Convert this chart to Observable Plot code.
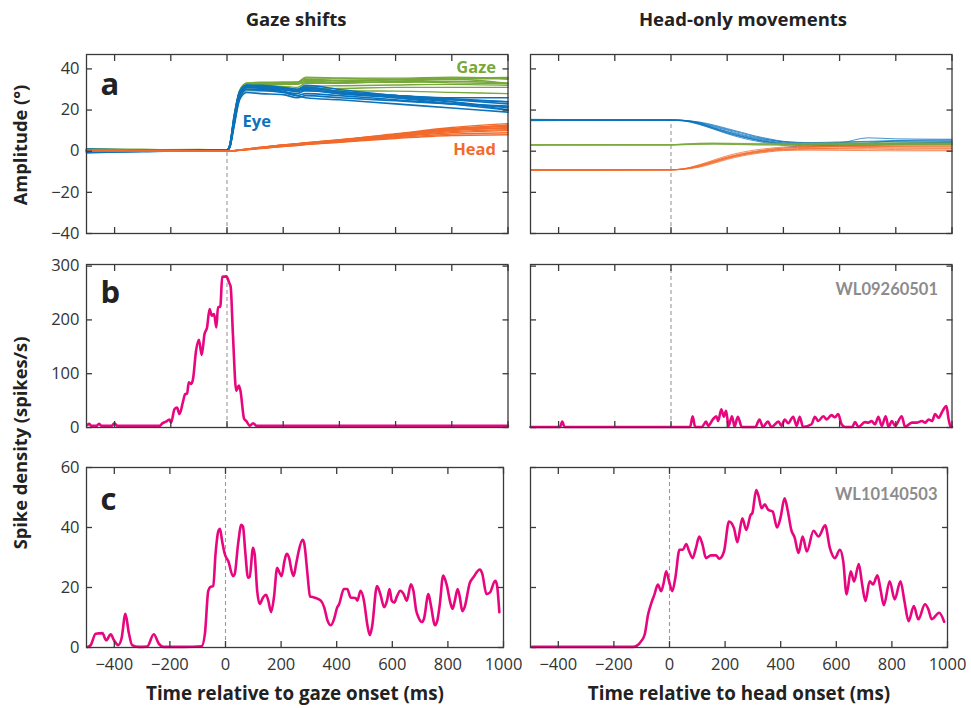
<!DOCTYPE html>
<html>
<head>
<meta charset="utf-8">
<script src="https://cdn.jsdelivr.net/npm/d3@7"></script>
<script src="https://cdn.jsdelivr.net/npm/@observablehq/plot@0.6"></script>
<style>
  html, body { margin: 0; padding: 0; background: #fff; }
  #root { position: relative; width: 971px; height: 708px; overflow: hidden; font-family: "Open Sans", Lato, sans-serif; }
  #root svg { position: absolute; overflow: visible; }
  .lbl { position: absolute; font-weight: bold; color: #222; white-space: nowrap; transform: translate(-50%, -50%); line-height: 1; }
  .rot { transform: translate(-50%, -50%) rotate(-90deg); }
</style>
</head>
<body>
<div id="root"></div>
<script>
// ---------------- DATA ----------------
const columnTitles = ["Gaze shifts", "Head-only movements"];
const xTitles = ["Time relative to gaze onset (ms)", "Time relative to head onset (ms)"];
const yTitles = ["Amplitude (°)", "Spike density (spikes/s)"];
const panelLetters = ["a", "b", "c"];
const cellIds = ["WL09260501", "WL10140503"];
const traceNames = ["Gaze", "Eye", "Head"];
const xTicks = [-400, -200, 0, 200, 400, 600, 800, 1000];
const yTicksA = [-40, -20, 0, 20, 40];
const yTicksB = [0, 100, 200, 300];
const yTicksC = [0, 20, 40, 60];

// Panel a, gaze shifts: sample times (ms) and traces (deg)
const timesLeftA = [-500, -300, -100, 0, 10, 25, 45, 70, 120, 200, 250, 280, 400, 600, 800, 1000];
const eyeLeft = [
  [1, 0.5, 0.3, 0.5, 3, 16, 29, 32, 32, 31, 30, 31, 29, 27, 25, 23],
  [-0.5, 0, 0.5, 0.6, 2.5, 15, 28, 31, 31, 30, 29.5, 30, 28, 26, 24, 21],
  [0.8, 0.3, 0.2, 0.4, 2, 13, 26, 30, 30, 29, 28, 29.5, 28, 27, 26, 26],
  [0, -0.3, 0.4, 0.5, 3, 17, 29, 32, 31.5, 30.5, 30, 32, 30, 27, 24, 20],
  [-0.8, 0, 0.3, 0.5, 2, 14, 27, 31, 30.5, 29, 27, 26, 25, 23, 21, 19],
  [0.5, 0.2, 0.5, 0.6, 2.5, 15, 28, 32, 31, 30, 29, 31, 29, 26.5, 25, 24],
  [0.2, 0.5, 0.3, 0.5, 2, 12, 25, 28.5, 28, 27.5, 26, 27, 26, 24.5, 23, 22],
  [-0.3, 0, 0.4, 0.5, 3, 16, 28, 31, 31, 30, 29.5, 29.5, 28.5, 27, 25.5, 24],
  [0.6, 0.4, 0.3, 0.5, 2.5, 14, 27, 30, 29.5, 28.5, 27, 28, 27, 25, 23, 21.5],
  [0, 0.2, 0.5, 0.5, 2, 15, 28, 31.5, 31, 30, 30, 30.5, 29, 26, 23, 20]
];
const headLeft = [
  [0.5, 0.3, 0.2, 0, 0.1, 0.3, 0.6, 1, 1.8, 3, 3.6, 4, 5.5, 8.5, 11.5, 13.4],
  [0.3, 0.4, 0.2, 0, 0.1, 0.3, 0.5, 0.9, 1.6, 2.7, 3.3, 3.7, 5, 7.5, 10, 11.5],
  [0.4, 0.2, 0.1, 0, 0.1, 0.2, 0.5, 0.8, 1.5, 2.5, 3, 3.4, 4.6, 7, 9, 10],
  [0.2, 0.3, 0.2, 0, 0.1, 0.3, 0.6, 1, 1.7, 2.9, 3.5, 3.9, 5.3, 8, 11, 12.5],
  [0.5, 0.4, 0.3, 0, 0.1, 0.2, 0.4, 0.7, 1.3, 2.3, 2.8, 3.2, 4.3, 6.2, 7.6, 8],
  [0.3, 0.2, 0.2, 0, 0.1, 0.3, 0.6, 1, 1.9, 3.1, 3.7, 4.1, 5.6, 8.2, 10.8, 12],
  [0.4, 0.3, 0.1, 0, 0.1, 0.2, 0.5, 0.8, 1.4, 2.4, 2.9, 3.3, 4.5, 6.6, 8.3, 9],
  [0.2, 0.2, 0.2, 0, 0.1, 0.3, 0.5, 0.9, 1.6, 2.8, 3.4, 3.8, 5.2, 7.8, 10.4, 11],
  [0.5, 0.3, 0.2, 0, 0.1, 0.2, 0.5, 0.8, 1.5, 2.6, 3.1, 3.5, 4.8, 7.2, 9.5, 10.5],
  [0.3, 0.4, 0.3, 0, 0.1, 0.3, 0.6, 1, 1.8, 3, 3.5, 3.9, 5.4, 8, 10.2, 12.8]
];
const gazeLeft = [
  [1, 0.8, 0.5, 0.5, 3, 16, 29.5, 33, 33.5, 33.5, 33.5, 35.5, 35.5, 35.5, 36, 35.5],
  [-0.2, 0.4, 0.7, 0.6, 2.5, 15, 28.5, 32, 32.5, 32.5, 32.5, 34, 33.5, 33.5, 34, 33],
  [1.2, 0.5, 0.3, 0.4, 2, 13, 26.5, 31, 31.5, 31.5, 31, 33, 33, 34, 35, 35.5],
  [0.2, 0, 0.6, 0.5, 3, 17, 29.5, 33, 33, 33.5, 33.5, 36, 35.5, 35, 35, 33],
  [-0.3, 0.4, 0.6, 0.5, 2, 14, 27.5, 31.5, 31.8, 31.3, 29.8, 29.2, 29.3, 29.2, 28.6, 28],
  [0.8, 0.4, 0.7, 0.6, 2.5, 15, 28.5, 33, 33, 33, 32.7, 35, 34.5, 34.7, 35.5, 35.8],
  [0.6, 0.8, 0.4, 0.5, 2, 12, 25.5, 29.3, 29.4, 29.9, 28.9, 30.3, 30.5, 31, 31, 31],
  [-0.1, 0.2, 0.6, 0.5, 3, 16, 28.5, 32, 32.6, 32.8, 32.9, 33.3, 33.7, 34.8, 35.5, 35],
  [1.1, 0.7, 0.5, 0.5, 2.5, 14, 27.5, 30.8, 31, 31.1, 30.1, 31.5, 31.8, 32.2, 32.5, 32],
  [0.3, 0.6, 0.8, 0.5, 2, 15, 28.5, 32.5, 32.8, 33, 33.5, 34.4, 34.4, 34, 33.2, 32.8]
];

// Panel a, head-only movements
const timesRightA = [-500, -200, 0, 40, 100, 150, 200, 250, 300, 350, 400, 500, 600, 700, 800, 1000];
const eyeRight = [
  [15.3, 15.2, 15.2, 15, 13.8, 12, 10.2, 8.2, 6.6, 5.4, 4.6, 4.2, 4.5, 4.8, 5.2, 5.5],
  [15, 15.1, 15, 14.8, 13.2, 11, 8.8, 7, 5.5, 4.3, 3.6, 3.3, 3.5, 3.8, 4, 4.2],
  [15.5, 15.3, 15.3, 15.1, 14, 12.4, 10.6, 8.8, 7, 5.6, 4.5, 3.5, 4, 6.5, 6, 5.8],
  [14.8, 15, 15, 14.8, 13, 10.8, 8.5, 6.5, 5, 3.8, 2.8, 2, 2.4, 2.8, 3.2, 3.4],
  [15.2, 15.1, 15.2, 15, 13.6, 11.6, 9.6, 7.8, 6.2, 5, 4, 3.2, 3.4, 3.9, 5, 4.8],
  [15, 14.9, 15.1, 14.9, 13.4, 11.4, 9.4, 7.4, 5.8, 4.6, 3.8, 3, 2.8, 3, 3.5, 3.7],
  [15.4, 15.3, 15.2, 15, 14.2, 12.8, 11, 9.2, 7.4, 6, 4.8, 4, 4.2, 4.5, 4.8, 5],
  [15.1, 15.2, 15, 14.9, 13.5, 11.2, 9, 7.2, 5.6, 4.4, 3.4, 2.6, 3, 3.4, 3.8, 4.4]
];
const headRight = [
  [-9.2, -9.1, -9, -8.7, -7, -5, -3, -1.5, -0.2, 0.8, 1.5, 2, 2.2, 2.4, 2.5, 2.6],
  [-8.9, -9, -9.1, -8.8, -7.5, -5.6, -3.6, -2, -0.8, 0, 0.6, 1, 1, 1, 0.8, 0.6],
  [-9.3, -9.2, -9, -8.6, -6.6, -4.4, -2.2, -0.6, 0.6, 1.4, 2, 2.3, 2.4, 2.3, 2.2, 2.1],
  [-9, -9.1, -9, -8.8, -7.8, -6, -4, -2.4, -1.2, -0.3, 0.3, 0.5, 0.4, 0.3, 0.2, 0.2],
  [-9.1, -9, -9.1, -8.7, -7.2, -5.2, -3.2, -1.6, -0.4, 0.5, 1, 1.4, 1.6, 1.8, 2, 2],
  [-9.2, -9.2, -9, -8.7, -6.8, -4.8, -2.8, -1.2, 0, 0.9, 1.6, 2.2, 2.5, 2.8, 3, 3.2],
  [-9, -9, -9.1, -8.8, -7.4, -5.4, -3.4, -1.8, -0.6, 0.3, 0.9, 1.2, 1.4, 1.5, 1.4, 1.3]
];
const gazeRight = [
  [3.1, 3.2, 3.1, 3.3, 3.6, 3.7, 3.7, 3.6, 3.5, 3.6, 3.5, 3.6, 3.5, 3.7, 3.6, 3.7],
  [2.9, 3, 3, 3.2, 3.4, 3.5, 3.4, 3.3, 3.2, 3.2, 3.3, 3.2, 3.3, 3.2, 3.3, 3.3],
  [3, 3.1, 3.2, 3.5, 3.9, 4, 3.9, 3.8, 3.8, 3.9, 3.8, 3.9, 4, 4, 4.1, 4],
  [3.2, 3.1, 3, 3.1, 3.3, 3.4, 3.3, 3.2, 3, 2.9, 2.9, 3, 3, 3.1, 3, 3],
  [3, 3, 3.1, 3.4, 3.7, 3.8, 3.6, 3.5, 3.4, 3.4, 3.5, 3.5, 3.6, 3.5, 3.6, 3.5]
];

// Panel b, spike density (spikes/s): [time ms, rate]
const spikesLeftB = [
  [-496, 5], [-490, 7], [-483, 3], [-465, 3], [-455, 7], [-447, 3], [-410, 3], [-401, 8], [-390, 3],
  [-240, 3], [-229, 8], [-217, 11], [-205, 15], [-199, 9], [-187, 34], [-178, 37], [-169, 25],
  [-157, 47], [-149, 62], [-142, 63], [-136, 84], [-127, 81], [-121, 90], [-110, 143], [-100, 163],
  [-90, 135], [-80, 174], [-71, 186], [-62, 220], [-54, 208], [-46, 211], [-38, 186], [-32, 224],
  [-24, 224], [-17, 280], [-2, 281], [7, 270], [13, 262], [21, 174], [33, 68], [42, 78], [48, 68],
  [61, 16], [69, 12], [81, 3], [93, 8], [105, 3], [400, 3], [1000, 3]
];
const spikesRightB = [
  [-500, 1], [-395, 1], [-387, 11], [-379, 1], [0, 1], [68, 1], [77, 21], [86, 1], [110, 1], [125, 11],
  [132, 3], [149, 15], [161, 21], [168, 12], [179, 34], [188, 20], [196, 31], [205, 3], [217, 21],
  [226, 2], [238, 20], [252, 1], [300, 1], [315, 15], [327, 1], [345, 11], [357, 1], [383, 11],
  [393, 3], [405, 15], [417, 8], [435, 20], [447, 3], [458, 20], [470, 1], [500, 6], [512, 20],
  [524, 12], [542, 21], [554, 15], [571, 23], [583, 19], [595, 25], [607, 6], [619, 1], [645, 1],
  [655, 10], [667, 1], [690, 10], [702, 9], [714, 12], [726, 6], [738, 20], [750, 3], [764, 21],
  [774, 1], [786, 12], [798, 3], [821, 21], [833, 1], [857, 9], [874, 9], [893, 12], [905, 9],
  [917, 15], [929, 12], [940, 25], [952, 18], [964, 28], [970, 34], [980, 40], [988, 15], [994, 3], [1000, 1]
];

// Panel c, spike density (spikes/s)
const spikesLeftC = [
  [-496, 0.2], [-485, 0.8], [-467, 4.6], [-443, 4.8], [-429, 2.4], [-413, 4.4], [-401, 2.4], [-386, 0.8],
  [-374, 3], [-360, 11.2], [-348, 5], [-336, 0.8], [-312, 0.2], [-282, 0.3], [-258, 4.4], [-240, 1.3],
  [-223, 0.2], [-150, 0.2], [-86, 0.4], [-74, 4.6], [-62, 18.9], [-54, 20.2], [-44, 20.5], [-36, 31],
  [-26, 38.7], [-20, 39.6], [-12, 35.4], [-2, 31], [10, 28.8], [27, 23.8], [33, 24.4], [45, 34.3],
  [57, 40.9], [63, 40.3], [71, 32], [81, 23.3], [87, 23.5], [99, 33.2], [105, 31], [114, 18.9],
  [123, 14.5], [135, 16.7], [146, 17.6], [154, 15.6], [164, 11.8], [174, 16.5], [186, 26.6], [194, 25],
  [202, 23.8], [212, 28.8], [220, 31.2], [229, 29.8], [238, 25.5], [245, 23.8], [254, 27.8], [263, 32],
  [277, 35.9], [283, 34.8], [295, 24.4], [304, 17], [319, 16.7], [343, 15.6], [355, 13.4], [367, 9],
  [379, 7.4], [391, 9.6], [402, 13.4], [408, 14.3], [426, 19.5], [438, 19.5], [450, 16.7], [468, 16.5],
  [474, 15.6], [486, 18.9], [498, 15.6], [510, 7.7], [519, 4.1], [527, 6.8], [545, 20.5], [557, 17.8],
  [571, 13.4], [581, 15.6], [590, 19.5], [598, 15.6], [607, 15], [617, 17.1], [629, 18.9], [641, 17.8],
  [652, 15.6], [667, 21.1], [676, 18.9], [686, 12.3], [694, 10.1], [706, 8.5], [714, 9.6], [730, 17.8],
  [738, 14.5], [754, 7.4], [762, 9], [771, 14.5], [783, 24], [795, 21.1], [810, 14.5], [817, 12.9],
  [825, 15.6], [835, 19.5], [843, 16.7], [852, 12.1], [860, 13.4], [879, 21.6], [891, 23.3], [915, 26],
  [923, 24.8], [939, 17.8], [951, 18.3], [970, 22.2], [976, 21.1], [985, 11.8]
];
const spikesRightC = [
  [-494, 0.2], [-300, 0.2], [-131, 0.2], [-119, 0.5], [-101, 2.2], [-89, 4.4], [-77, 11], [-65, 14.9],
  [-54, 17.7], [-42, 21], [-30, 18.8], [-21, 21.5], [-12, 25.4], [0, 21.5], [10, 18.8], [21, 23.2],
  [36, 32.6], [48, 32.6], [60, 34.5], [71, 32], [83, 29.8], [95, 33.1], [107, 37], [119, 34.2],
  [131, 29.8], [149, 30.7], [167, 30.7], [179, 29.6], [196, 32], [214, 42], [232, 39.8], [244, 35.1],
  [262, 43.1], [276, 39.2], [292, 44.2], [298, 44.8], [312, 52.5], [321, 50.3], [331, 46.4], [343, 47.7],
  [355, 45.9], [371, 45.3], [387, 40], [399, 43.1], [414, 49.7], [426, 45.3], [438, 39.2], [450, 36.7],
  [464, 31.5], [479, 37], [494, 32], [518, 38.9], [536, 37], [560, 40.7], [577, 33.1], [595, 29.8],
  [613, 32.6], [625, 28.7], [637, 17.7], [652, 25.4], [664, 22], [681, 27.8], [693, 21], [705, 15.5],
  [720, 22.1], [732, 21], [748, 24.1], [760, 18.8], [771, 14.1], [792, 22.1], [810, 16], [831, 22.1],
  [845, 15.5], [860, 8.8], [879, 13.8], [895, 9.4], [919, 14.4], [931, 12.8], [943, 9.4], [970, 11.6], [988, 8.6]
];

// Upper data value reached by the dashed onset line in each panel (rows a, b, c; left, right)
const onsetLineTop = [[0, 15.2], [280, 303], [60, 60]];

// ---------------- STYLE / LAYOUT ----------------
const COL = {gaze: "#77a83a", eye: "#0b72bd", head: "#f26a2c", spike: "#e8067f", onset: "#9a9a9a", frame: "#3a3a3a", id: "#8c8c8c"};
const FONT = "'Open Sans', Lato, sans-serif";
const colX = [{left: 85.5, width: 421.5}, {left: 530, width: 421.5}];
const rowY = [{top: 54, height: 179, domain: [-40, 47], ticks: yTicksA},
              {top: 264, height: 163, domain: [0, 303], ticks: yTicksB},
              {top: 467, height: 180, domain: [0, 60], ticks: yTicksC}];
const ML = 70, MR = 20, MT = 20, MB = 40;
const fmt = d3.format("d");

const root = document.getElementById("root");

function toRows(times, traces, name) {
  return traces.flatMap((tr, i) => tr.map((v, j) => ({t: times[j], v, id: name + i})));
}
function pairs(arr) { return arr.map(([t, v]) => ({t, v})); }

function makePanel(row, col, marks, extra) {
  const r = rowY[row];
  let {left, width} = colX[col];
  if (row === 2) width -= 4.5;
  const showY = col === 0, showX = row === 2;
  const tk = {tickSize: -6, fill: "none", stroke: COL.frame, strokeWidth: 1.3, label: null};
  const axes = [
    Plot.frame({stroke: COL.frame, strokeWidth: 1.3}),
    Plot.axisX(xTicks, {anchor: "bottom", ...tk}),
    Plot.axisX(xTicks, {anchor: "top", ...tk}),
    Plot.axisY(r.ticks, {anchor: "left", ...tk}),
    Plot.axisY(r.ticks, {anchor: "right", ...tk})
  ];
  if (showX) axes.push(Plot.axisX(xTicks, {anchor: "bottom", tickSize: 0, tickPadding: 11, stroke: "none", fill: "#333", fontSize: 16.5, tickFormat: fmt, label: null}));
  if (showY) axes.push(Plot.axisY(r.ticks, {anchor: "left", tickSize: 0, tickPadding: 7, stroke: "none", fill: "#333", fontSize: 16.5, tickFormat: fmt, label: null}));
  const svg = Plot.plot({
    width: width + ML + MR, height: r.height + MT + MB,
    marginLeft: ML, marginRight: MR, marginTop: MT, marginBottom: MB,
    x: {domain: [-500, 1000], label: null},
    y: {domain: r.domain, label: null},
    style: {fontFamily: FONT, fontSize: "16.5px", color: "#333", background: "transparent", overflow: "visible"},
    marks: [
      Plot.ruleX([0], {y1: r.domain[0], y2: onsetLineTop[row][col], stroke: COL.onset, strokeWidth: 1.1, strokeDasharray: "4,3"}),
      ...marks,
      ...axes,
      ...(extra || [])
    ]
  });
  svg.style.left = (left - ML) + "px";
  svg.style.top = (r.top - MT) + "px";
  root.appendChild(svg);
}

function note(text, anchor, dx, dy, size, fill, family) {
  return Plot.text([text], {text: d => d, frameAnchor: anchor, textAnchor: anchor.endsWith("right") ? "end" : "start",
    lineAnchor: "middle", dx, dy, fontSize: size, fontWeight: "bold", fill, fontFamily: family || FONT});
}

// Panel a left
makePanel(0, 0, [
  Plot.line(toRows(timesLeftA, gazeLeft, "g"), {x: "t", y: "v", z: "id", stroke: COL.gaze, strokeWidth: 1.4, curve: "monotone-x"}),
  Plot.line(toRows(timesLeftA, eyeLeft, "e"), {x: "t", y: "v", z: "id", stroke: COL.eye, strokeWidth: 1.6, curve: "monotone-x"}),
  Plot.line(toRows(timesLeftA, headLeft, "h"), {x: "t", y: "v", z: "id", stroke: COL.head, strokeWidth: 1.4, curve: "monotone-x"})
], [
  note(panelLetters[0], "top-left", 14, 31, 31, "#222"),
  note(traceNames[0], "top-right", -12, 13, 16.5, COL.gaze),
  note(traceNames[1], "top-left", 156, 67, 16.5, COL.eye),
  note(traceNames[2], "top-right", -12, 95, 16.5, COL.head)
]);

// Panel a right
makePanel(0, 1, [
  Plot.line(toRows(timesRightA, eyeRight, "e"), {x: "t", y: "v", z: "id", stroke: COL.eye, strokeWidth: 0.9, strokeOpacity: 0.85, curve: "monotone-x"}),
  Plot.line(toRows(timesRightA, headRight, "h"), {x: "t", y: "v", z: "id", stroke: COL.head, strokeWidth: 0.9, strokeOpacity: 0.85, curve: "monotone-x"}),
  Plot.line(toRows(timesRightA, gazeRight, "g"), {x: "t", y: "v", z: "id", stroke: COL.gaze, strokeWidth: 0.9, strokeOpacity: 0.85, curve: "monotone-x"})
]);

// Panel b
makePanel(1, 0, [
  Plot.line(pairs(spikesLeftB), {x: "t", y: "v", stroke: COL.spike, strokeWidth: 2.6, curve: "monotone-x"})
], [note(panelLetters[1], "top-left", 14, 29, 31, "#222")]);
makePanel(1, 1, [
  Plot.line(pairs(spikesRightB), {x: "t", y: "v", stroke: COL.spike, strokeWidth: 2.6, curve: "monotone-x"})
], [note(cellIds[0], "top-right", -14, 25, 16.5, COL.id, "Lato, sans-serif")]);

// Panel c
makePanel(2, 0, [
  Plot.line(pairs(spikesLeftC), {x: "t", y: "v", stroke: COL.spike, strokeWidth: 2.6, curve: "monotone-x"})
], [note(panelLetters[2], "top-left", 14, 33, 31, "#222")]);
makePanel(2, 1, [
  Plot.line(pairs(spikesRightC), {x: "t", y: "v", stroke: COL.spike, strokeWidth: 2.6, curve: "monotone-x"})
], [note(cellIds[1], "top-right", -10, 27, 16.5, COL.id, "Lato, sans-serif")]);

// Titles and axis labels (HTML text)
function addLabel(text, cx, cy, size, rotate) {
  const d = document.createElement("div");
  d.className = "lbl" + (rotate ? " rot" : "");
  d.textContent = text;
  d.style.left = cx + "px";
  d.style.top = cy + "px";
  d.style.fontSize = size + "px";
  root.appendChild(d);
}
addLabel(columnTitles[0], 296, 19, 18.5);
addLabel(columnTitles[1], 743, 19, 18.5);
addLabel(xTitles[0], 295, 693, 18.8);
addLabel(xTitles[1], 739, 693, 18.8);
addLabel(yTitles[0], 20, 145, 18.3, true);
addLabel(yTitles[1], 20, 443, 18.3, true);
</script>
</body>
</html>
